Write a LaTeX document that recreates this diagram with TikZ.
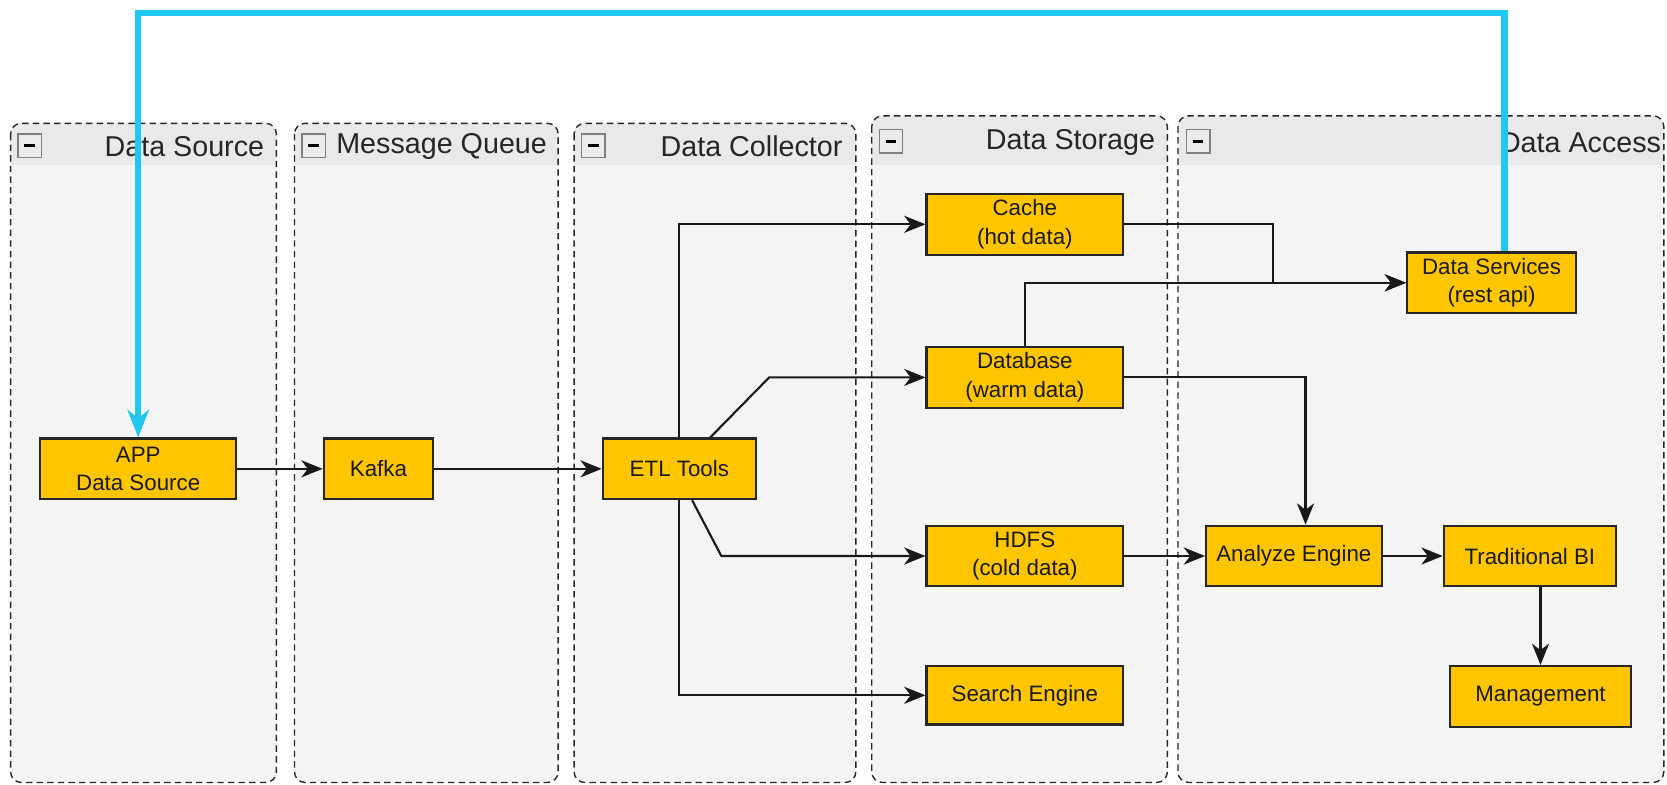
\documentclass[tikz,border=0pt]{standalone}
\usepackage{fontspec}
\setmainfont{Liberation Sans}
\usetikzlibrary{arrows.meta}
\usetikzlibrary{backgrounds}

\definecolor{lanebody}{HTML}{F4F4F4}
\definecolor{lanehead}{HTML}{E9E9E9}
\definecolor{boxfill}{HTML}{FFC600}
\definecolor{feedblue}{HTML}{1EC8F0}

\tikzset{
  lane/.style={draw=black!85, dash pattern=on 6pt off 4pt, line width=1.3pt, rounded corners=10pt},
  lanetitle/.style={anchor=east, text=black!85, font=\fontsize{27}{30}\selectfont},
  minusbox/.style={draw=black!50, fill=white!92!black, line width=1.2pt, minimum size=22pt, inner sep=0pt},
  block/.style={draw=black!85, line width=2pt, fill=boxfill, minimum height=57pt, align=center,
    inner sep=2pt, text=black!90, font=\fontsize{21}{27}\selectfont},
  flow/.style={-{Stealth[length=20pt,width=16pt,inset=6pt]}, line width=2pt, black!90},
  feedback/.style={-{Stealth[length=26pt,width=20pt,inset=8pt]}, line width=6pt, feedblue}
}

\begin{document}
\begin{tikzpicture}[x=1pt,y=-1pt]

    \useasboundingbox (0,0) rectangle (1568,738);
    \fill[white] (0,0) rectangle (1568,738);

    % lanes
    \fill[lanebody, rounded corners=10pt] (10,116) rectangle (260,736);
    \fill[lanehead, rounded corners=10pt] (10,155) -- (10,116) -- (260,116) -- (260,155);
    \draw[lane] (10,116) rectangle (260,736);

    \fill[lanebody, rounded corners=10pt] (277,116) rectangle (525,736);
    \fill[lanehead, rounded corners=10pt] (277,155) -- (277,116) -- (525,116) -- (525,155);
    \draw[lane] (277,116) rectangle (525,736);

    \fill[lanebody, rounded corners=10pt] (540,116) rectangle (805,736);
    \fill[lanehead, rounded corners=10pt] (540,155) -- (540,116) -- (805,116) -- (805,155);
    \draw[lane] (540,116) rectangle (805,736);

    \fill[lanebody, rounded corners=10pt] (820,109) rectangle (1098,736);
    \fill[lanehead, rounded corners=10pt] (820,155) -- (820,109) -- (1098,109) -- (1098,155);
    \draw[lane] (820,109) rectangle (1098,736);

    \fill[lanebody, rounded corners=10pt] (1108,109) rectangle (1565,736);
    \fill[lanehead, rounded corners=10pt] (1108,155) -- (1108,109) -- (1565,109) -- (1565,155);
    \draw[lane] (1108,109) rectangle (1565,736);

    % lane headers
    \node[minusbox] (srcmin) at (28,137) {\rule{10pt}{2.5pt}};
    \node[minusbox] (mqmin) at (295,137) {\rule{10pt}{2.5pt}};
    \node[minusbox] (colmin) at (558,137) {\rule{10pt}{2.5pt}};
    \node[minusbox] (stomin) at (838,133) {\rule{10pt}{2.5pt}};
    \node[minusbox] (accmin) at (1127,133) {\rule{10pt}{2.5pt}};

    \node[lanetitle] (srctitle) at (252,138) {Data Source};
    \node[lanetitle] (mqtitle) at (518,138) {Message Queue};
    \node[lanetitle] (coltitle) at (796,138) {Data Collector};
    \node[lanetitle] (stotitle) at (1090,134) {Data Storage};
    \node[lanetitle] (acctitle) at (1566,134) {Data Access};

    % blocks
    \node[block, minimum width=184pt] (app) at (130,441) {APP\\Data Source};
    \node[block, minimum width=103pt] (kafka) at (356,441) {Kafka};
    \node[block, minimum width=144pt] (etl) at (639,441) {ETL Tools};
    \node[block, minimum width=185pt] (cache) at (964,211) {Cache\\(hot data)};
    \node[block, minimum width=185pt] (db) at (964,355) {Database\\(warm data)};
    \node[block, minimum width=185pt] (hdfs) at (964,523) {HDFS\\(cold data)};
    \node[block, minimum width=185pt, minimum height=55pt] (search) at (964,654) {Search Engine};
    \node[block, minimum width=159pt] (svc) at (1403,266) {Data Services\\(rest api)};
    \node[block, minimum width=165pt] (analyze) at (1217,523) {Analyze Engine};
    \node[block, minimum width=162pt] (bi) at (1439,523) {Traditional BI};
    \node[block, minimum width=171pt] (mgmt) at (1449,655) {Management};

    % connectors
    \draw[flow] (app) -- (kafka);
    \draw[flow] (kafka) -- (etl);
    \draw[flow] (etl.north) |- (cache);
    \draw[flow] (etl.south) |- (search);
    \draw[flow] ([xshift=29pt]etl.north) -- ([xshift=-147pt]db.west) -- (db.west);
    \draw[flow] ([xshift=12pt]etl.south) -- ([xshift=-192pt]hdfs.west) -- (hdfs.west);
    \draw[flow] (cache.east) -- ++(140,0) |- (svc.west);
    \draw[flow] (db.north) |- (svc.west);
    \draw[flow] (db.east) -| ([xshift=11pt]analyze.north);
    \draw[flow] (hdfs) -- (analyze);
    \draw[flow] (analyze) -- (bi);
    \draw[flow] (mgmt.north |- bi.south) -- (mgmt.north);

    \coordinate (looptop) at (0,12);
    \draw[feedback] ([xshift=12pt]svc.north) -- ([xshift=12pt]svc.north |- looptop) -| (app.north);

\end{tikzpicture}
\end{document}
